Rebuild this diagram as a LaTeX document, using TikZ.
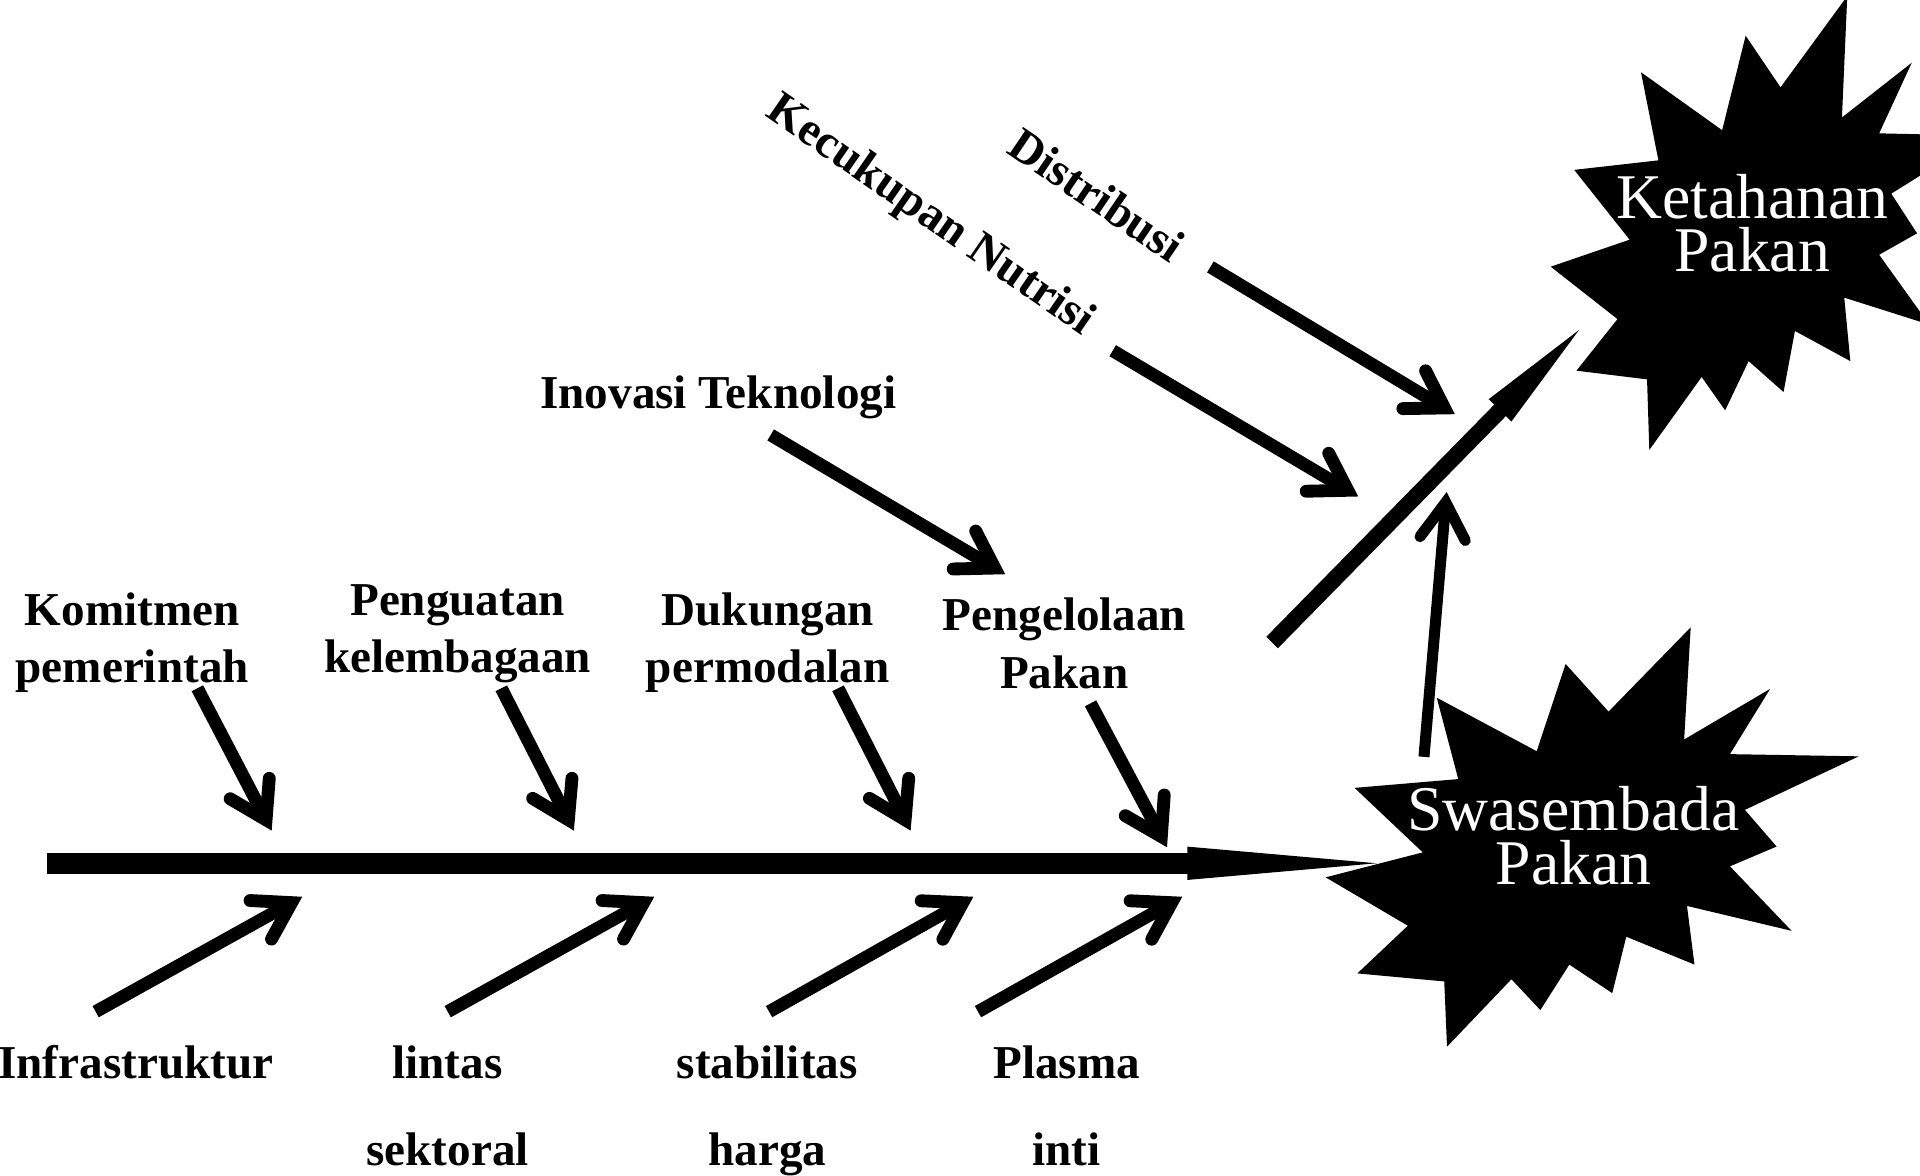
\documentclass[tikz,border=0pt]{standalone}
\usepackage{fontspec}
\setmainfont{Liberation Serif}
\usetikzlibrary{calc}
\tikzset{
  lbl/.style={font=\bfseries\fontsize{38.5}{47}\selectfont, inner sep=0pt, align=center, anchor=north},
  lblwide/.style={lbl, font=\bfseries\fontsize{38.5}{70.8}\selectfont},
  lblbase/.style={font=\bfseries\fontsize{38.5}{47}\selectfont, inner sep=0pt, anchor=base},
  burstlbl/.style={font=\fontsize{52}{43.5}\selectfont, text=white, inner sep=0pt, align=center, anchor=north},
  spinestyle/.style={line width=17.5pt, line cap=butt},
  blockshaft/.style={line width=13.3pt, line cap=butt},
  explosion/.pic={\fill[black] (114.62,43.42) -- (147.90,0) -- (145.25,57.77) -- (180.07,31.72) -- (163.80,65.32) -- (216,66.45) -- (169.85,94.02) -- (182.70,112.90) -- (163.80,123.10) -- (188.77,156.32) -- (146.40,143.50) -- (149.42,173.70) -- (121.80,159.35) -- (116.12,188.42) -- (98.72,173.70) -- (87.00,197.12) -- (75.27,181.25) -- (49.17,216) -- (48.05,182.40) -- (12.85,178.25) -- (33.30,153.70) -- (0,128.77) -- (39.35,115.92) -- (11.72,82.70) -- (53.72,78.17) -- (45.02,36.25) -- (85.50,63.82) -- (97.22,18.87) -- cycle;},
}
% #1 start, #2 visible tip, #3 line width, #4 miter offset, #5 arm length
\newcommand\vbarrow[5]{%
  \path ($(#2)!#4!(#1)$) coordinate (vbt);
  \draw[line width=#3, line cap=butt] (#1) -- (vbt);
  \draw[line width=#3, line cap=round, line join=miter] ($(vbt)!#5!32:(#1)$) -- (vbt) -- ($(vbt)!#5!-32:(#1)$);
}
\begin{document}
\begin{tikzpicture}[x=1pt,y=-1pt]
\path[use as bounding box] (0,0) rectangle (1568,960);
\fill[white] (0,0) rectangle (1568,960);
\clip (0,0) rectangle (1568,960);

% explosions
\begin{scope}[shift={(1082.6,512.3)}, x=2.01574pt, y=-1.58565pt] \pic {explosion}; \end{scope}
\begin{scope}[shift={(1266.4,-3.2)}, x=1.6375pt, y=-1.7162pt] \pic {explosion}; \end{scope}
\node[burstlbl] (swa) at (1285,638.4) {\rule{0pt}{40pt}Swasembada\\Pakan};
\node[burstlbl] (ket) at (1431,138.3) {\rule{0pt}{40pt}Ketahanan\\Pakan};

% labels
\node[lbl] (kom) at (108,480.4) {\rule{0pt}{30pt}Komitmen\\pemerintah};
\node[lbl] (pen) at (373.7,472.2) {\rule{0pt}{30pt}Penguatan\\kelembagaan};
\node[lbl] (duk) at (627,480.4) {\rule{0pt}{30pt}Dukungan\\permodalan};
\node[lbl] (pgl) at (869.2,485) {\rule{0pt}{30pt}Pengelolaan\\Pakan};
\node[lblbase] (ino) at (586.6,333.5) {Inovasi Teknologi};
\node[lblbase, rotate=-34.7] (kec) at (754.1,184.4) {Kecukupan Nutrisi};
\node[lblbase, rotate=-34] (dis) at (888.7,170.1) {Distribusi};
\node[lblbase] (inf) at (111,880.6) {Infrastruktur};
\node[lblwide] (lin) at (365.5,850.6) {\rule{0pt}{30pt}lintas\\sektoral};
\node[lblwide] (sta) at (626.6,850.6) {\rule{0pt}{30pt}stabilitas\\harga};
\node[lblwide] (pla) at (871,850.6) {\rule{0pt}{30pt}Plasma\\inti};

% spine
\coordinate (sp0) at (38.7,705);
\coordinate (spb) at (969.6,705);
\coordinate (sptip) at (1124.3,705);
\draw[spinestyle] (sp0) -- ($(spb)+(1,0)$);
\fill ($(spb)+(0,-13.6)$) -- (sptip) -- ($(spb)+(0,13.6)$) -- cycle;

% upper branches
\coordinate (a1s) at (161.2,562.1); \coordinate (a1t) at (221.9,678.4);
\coordinate (a2s) at (409.4,562.1); \coordinate (a2t) at (468.7,678.4);
\coordinate (a3s) at (684.4,562.1); \coordinate (a3t) at (743.7,678.4);
\coordinate (a4s) at (890.6,574.4); \coordinate (a4t) at (953.1,692);
\vbarrow{a1s}{a1t}{10.5pt}{10pt}{34pt}
\vbarrow{a2s}{a2t}{10.5pt}{10pt}{34pt}
\vbarrow{a3s}{a3t}{10.5pt}{10pt}{34pt}
\vbarrow{a4s}{a4t}{10.5pt}{10pt}{34pt}

% lower branches
\coordinate (b1s) at (78.1,826.2); \coordinate (b1t) at (246.9,732.3);
\coordinate (b2s) at (365.6,826.2); \coordinate (b2t) at (534.4,732.3);
\coordinate (b3s) at (628.1,826.2); \coordinate (b3t) at (795,732.3);
\coordinate (b4s) at (798.7,826.2); \coordinate (b4t) at (965.6,732.3);
\vbarrow{b1s}{b1t}{10.5pt}{10pt}{34pt}
\vbarrow{b2s}{b2t}{10.5pt}{10pt}{34pt}
\vbarrow{b3s}{b3t}{10.5pt}{10pt}{34pt}
\vbarrow{b4s}{b4t}{10.5pt}{10pt}{34pt}

% diagonal arrows from the upper labels
\coordinate (ins) at (629.4,355.2); \coordinate (int) at (821,469);
\coordinate (kcs) at (908.7,286.4); \coordinate (kct) at (1109.3,405.5);
\coordinate (dss) at (988.5,218); \coordinate (dst) at (1188.2,338.3);
\vbarrow{ins}{int}{10.5pt}{10pt}{34pt}
\vbarrow{kcs}{kct}{10.5pt}{10pt}{34pt}
\vbarrow{dss}{dst}{10.5pt}{10pt}{34pt}

% Swasembada -> up
\coordinate (ups) at (1162.9,618.1); \coordinate (upt) at (1181.4,401.8);
\vbarrow{ups}{upt}{9pt}{8.5pt}{35pt}

% block arrow to Ketahanan
\coordinate (ka0) at (1038.9,524.7);
\coordinate (katip) at (1289.5,269.5);
\path ($(katip)!92pt!(ka0)$) coordinate (kab);
\path ($(katip)!90pt!(ka0)$) coordinate (kab2);
\draw[blockshaft] (ka0) -- (kab2);
\fill ($(kab)!13pt!90:(katip)$) -- (katip) -- ($(kab)!13pt!-90:(katip)$) -- cycle;
\end{tikzpicture}
\end{document}
